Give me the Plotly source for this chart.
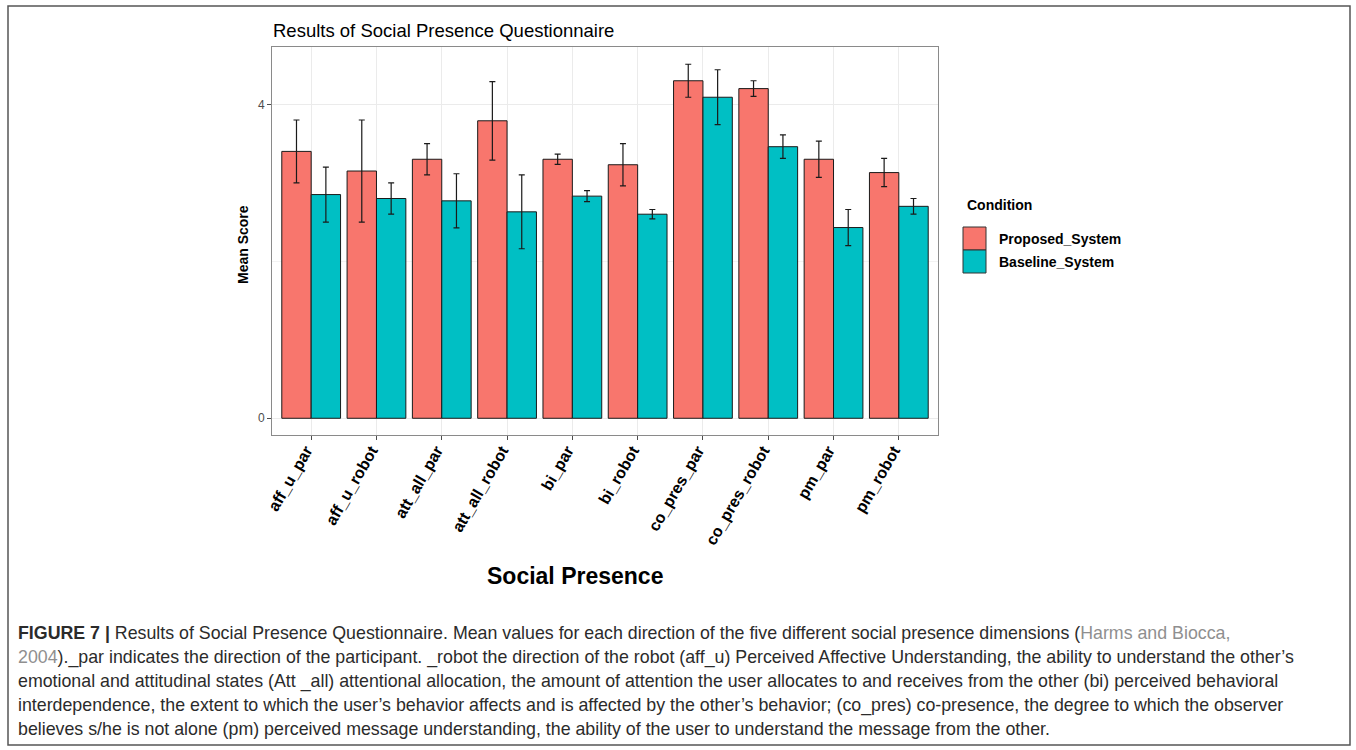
import plotly.graph_objects as go

# ---- data -----------------------------------------------------------------
categories = ["aff_u_par", "aff_u_robot", "att_all_par", "att_all_robot", "bi_par",
              "bi_robot", "co_pres_par", "co_pres_robot", "pm_par", "pm_robot"]
series_names = ["Proposed_System", "Baseline_System"]
proposed_mean = [3.40, 3.15, 3.30, 3.79, 3.30, 3.23, 4.30, 4.20, 3.30, 3.13]
proposed_err = [0.40, 0.65, 0.20, 0.50, 0.065, 0.27, 0.21, 0.10, 0.23, 0.18]
baseline_mean = [2.85, 2.80, 2.77, 2.63, 2.83, 2.60, 4.09, 3.46, 2.43, 2.70]
baseline_err = [0.35, 0.20, 0.345, 0.47, 0.07, 0.06, 0.35, 0.15, 0.23, 0.10]
y_ticks = [0, 4]

caption_lines = [
    "<b>FIGURE 7 |</b> Results of Social Presence Questionnaire. Mean values for each direction of the five different social presence dimensions (<span style='color:#8f8f8f'>Harms and Biocca,</span>",
    "<span style='color:#8f8f8f'>2004</span>)._par indicates the direction of the participant. _robot the direction of the robot (aff_u) Perceived Affective Understanding, the ability to understand the other\u2019s",
    "emotional and attitudinal states (Att _all) attentional allocation, the amount of attention the user allocates to and receives from the other (bi) perceived behavioral",
    "interdependence, the extent to which the user\u2019s behavior affects and is affected by the other\u2019s behavior; (co_pres) co-presence, the degree to which the observer",
    "believes s/he is not alone (pm) perceived message understanding, the ability of the user to understand the message from the other.",
]

# ---- page geometry (pixels) -------------------------------------------------
W, H = 1356, 750
L, R, T, B = 272, 938, 47, 435


def px(x):
    return (x - L) / (R - L)


def py(y):
    return (B - y) / (B - T)


colors = ["#F8766D", "#00BFC4"]
FONT = "Liberation Sans, Arial, Helvetica, sans-serif"

fig = go.Figure()
for name, mean, err, col in [(series_names[0], proposed_mean, proposed_err, colors[0]),
                             (series_names[1], baseline_mean, baseline_err, colors[1])]:
    fig.add_trace(go.Bar(
        x=categories, y=mean, name=name,
        marker=dict(color=col, line=dict(color="#1a1a1a", width=1)),
        error_y=dict(type="data", array=err, visible=True, color="#1a1a1a",
                     thickness=1.2, width=3),
        showlegend=False,
    ))

fig.update_layout(
    width=W, height=H,
    margin=dict(l=L, r=W - R, t=T, b=H - B, pad=0),
    paper_bgcolor="white", plot_bgcolor="white",
    barmode="group", bargap=0.1, bargroupgap=0,
    font=dict(family=FONT, color="black"),
    xaxis=dict(
        type="category", range=[-0.6, 9.6],
        showgrid=True, gridcolor="#EBEBEB", gridwidth=1,
        ticks="outside", ticklen=4, tickcolor="#4d4d4d", tickwidth=1,
        tickangle=-60, ticklabelstandoff=-5, ticklabelshift=-5,
        tickfont=dict(family=FONT, size=16, color="black", weight="bold"),
        showline=True, linecolor="#8a8a8a", linewidth=1, mirror=True,
        zeroline=False,
    ),
    yaxis=dict(
        range=[-0.213, 4.73],
        tickvals=y_ticks, ticktext=[str(v) for v in y_ticks],
        showgrid=True, gridcolor="#EBEBEB", gridwidth=1,
        minor=dict(tickvals=[2], showgrid=True, gridcolor="#F3F3F3", gridwidth=1, ticks=""),
        ticks="outside", ticklen=4, tickcolor="#4d4d4d", tickwidth=1,
        tickfont=dict(family=FONT, size=12, color="#4d4d4d"),
        showline=True, linecolor="#8a8a8a", linewidth=1, mirror=True,
        zeroline=False,
    ),
)

ann = []
# chart title
ann.append(dict(text="Results of Social Presence Questionnaire", x=px(271), y=py(31),
                xanchor="left", yanchor="middle", showarrow=False,
                font=dict(family=FONT, size=18.5, color="black")))
# axis titles
ann.append(dict(text="<b>Mean Score</b>", x=px(243), y=py(245), textangle=-90,
                xanchor="center", yanchor="middle", showarrow=False,
                font=dict(family=FONT, size=14, color="black")))
ann.append(dict(text="<b>Social Presence</b>", x=px(575), y=py(576),
                xanchor="center", yanchor="middle", showarrow=False,
                font=dict(family=FONT, size=23, color="black")))
# legend
ann.append(dict(text="<b>Condition</b>", x=px(965), y=py(205),
                xanchor="left", yanchor="middle", showarrow=False,
                font=dict(family=FONT, size=14, color="black")))
shapes = []
for i, (name, col) in enumerate(zip(series_names, colors)):
    y0 = 227 + 23 * i
    shapes.append(dict(type="rect", xref="paper", yref="paper",
                       x0=px(963), x1=px(986), y0=py(y0), y1=py(y0 + 23),
                       fillcolor=col, line=dict(color="#333333", width=1)))
    ann.append(dict(text=f"<b>{name}</b>", x=px(997), y=py(y0 + 11.5),
                    xanchor="left", yanchor="middle", showarrow=False,
                    font=dict(family=FONT, size=14, color="black")))

# caption
for i, line in enumerate(caption_lines):
    ann.append(dict(text=line, x=px(16), y=py(633 + 24 * i),
                    xanchor="left", yanchor="middle", showarrow=False,
                    font=dict(family=FONT, size=17.8, color="#2b2b2b")))

# outer frame
shapes.append(dict(type="rect", xref="paper", yref="paper",
                   x0=px(8), x1=px(1350), y0=py(6), y1=py(745),
                   line=dict(color="#555555", width=1.5), fillcolor="rgba(0,0,0,0)",
                   layer="below"))

for a in ann:
    a.setdefault("xref", "paper")
    a.setdefault("yref", "paper")
fig.update_layout(annotations=ann, shapes=shapes)

fig.write_html("out.html")
